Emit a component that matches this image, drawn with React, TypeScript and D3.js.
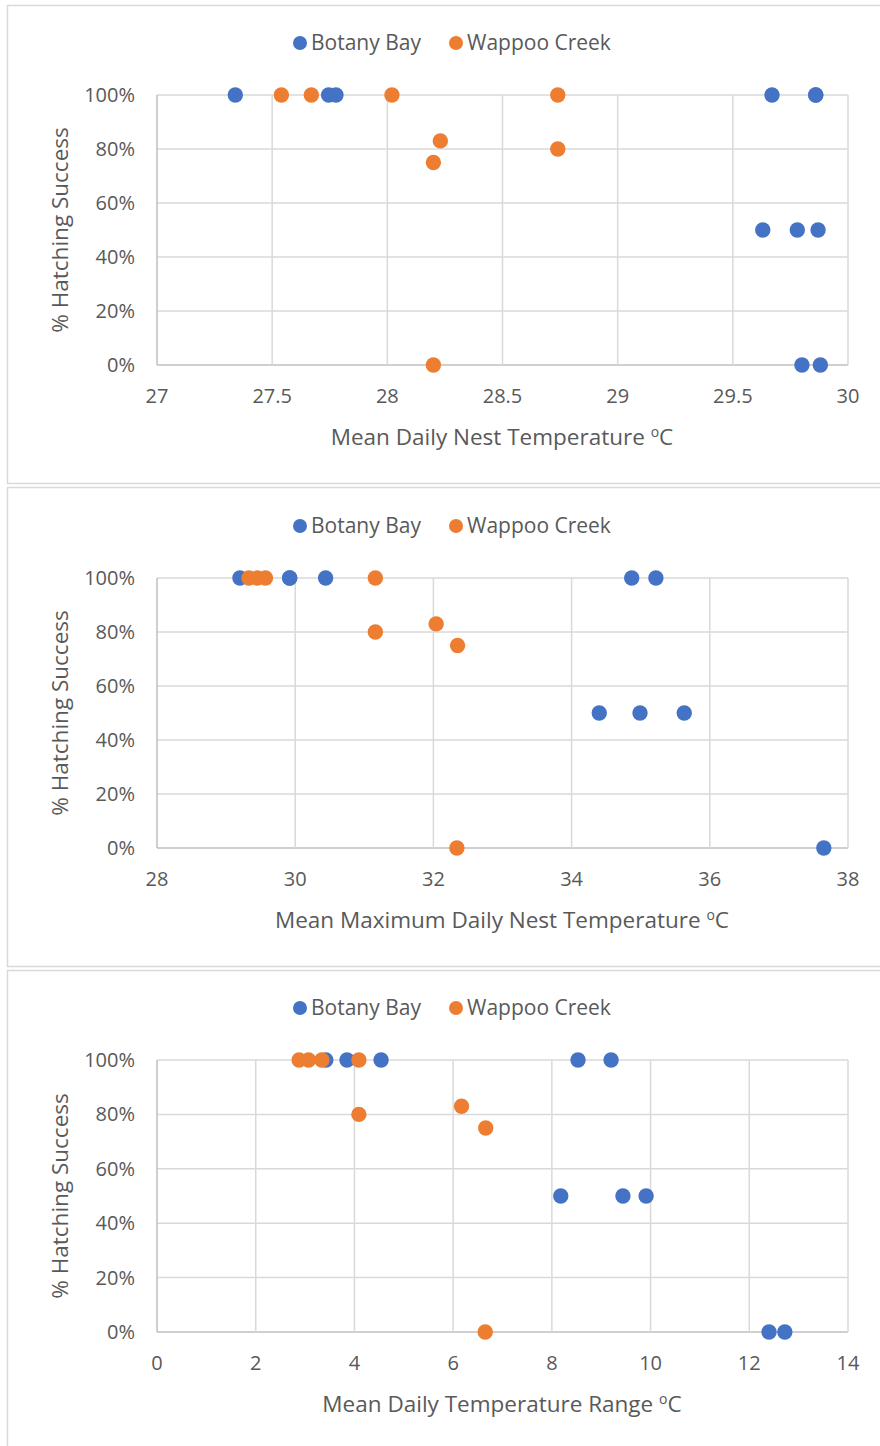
import React from "react";
import * as d3 from "d3";

const seriesNames = ["Botany Bay", "Wappoo Creek"];
const seriesColors = ["#4472C4", "#ED7D31"];

// Panel 1: Mean Daily Nest Temperature
const p1BotanyX = [27.34, 27.745, 27.777, 29.67, 29.86, 29.86, 29.63, 29.78, 29.87, 29.80, 29.88];
const p1BotanyY = [1, 1, 1, 1, 1, 1, 0.5, 0.5, 0.5, 0, 0];
const p1WappooX = [27.54, 27.67, 28.02, 28.74, 28.23, 28.20, 28.74, 28.20];
const p1WappooY = [1, 1, 1, 1, 0.83, 0.75, 0.8, 0];

// Panel 2: Mean Maximum Daily Nest Temperature
const p2BotanyX = [29.2, 29.92, 29.92, 30.44, 34.87, 35.22, 34.4, 34.99, 35.63, 37.65];
const p2BotanyY = [1, 1, 1, 1, 1, 1, 0.5, 0.5, 0.5, 0];
const p2WappooX = [29.33, 29.45, 29.57, 31.16, 31.16, 32.04, 32.35, 32.34];
const p2WappooY = [1, 1, 1, 1, 0.8, 0.83, 0.75, 0];

// Panel 3: Mean Daily Temperature Range
const p3BotanyX = [3.42, 3.85, 4.54, 8.53, 9.2, 8.18, 9.44, 9.91, 12.4, 12.72];
const p3BotanyY = [1, 1, 1, 1, 1, 0.5, 0.5, 0.5, 0, 0];
const p3WappooX = [2.88, 3.07, 3.34, 4.09, 4.09, 6.17, 6.66, 6.65];
const p3WappooY = [1, 1, 1, 1, 0.8, 0.83, 0.75, 0];

const yTicks = [0, 0.2, 0.4, 0.6, 0.8, 1];
const p1XTicks = [27, 27.5, 28, 28.5, 29, 29.5, 30];
const p2XTicks = [28, 30, 32, 34, 36, 38];
const p3XTicks = [0, 2, 4, 6, 8, 10, 12, 14];

const xTitles = [
  "Mean Daily Nest Temperature ",
  "Mean Maximum Daily Nest Temperature ",
  "Mean Daily Temperature Range ",
];
const yTitle = "% Hatching Success";

const FONT = "'Open Sans', sans-serif";
const TEXT = "#595959";
const GRID = "#d9d9d9";

type PanelProps = {
  top: number;
  bottom: number;
  plotTop: number;
  plotBottom: number;
  xDomain: [number, number];
  xTicks: number[];
  bx: number[];
  by: number[];
  wx: number[];
  wy: number[];
  title: string;
};

function Panel(p: PanelProps) {
  const x = d3.scaleLinear().domain(p.xDomain).range([157, 848]);
  const y = d3.scaleLinear().domain([0, 1]).range([p.plotBottom, p.plotTop]);
  const legendY = p.plotTop - 52;
  const fmtX = (v: number) => String(v);
  const fmtY = d3.format(".0%");
  const series = [
    { xs: p.bx, ys: p.by, color: seriesColors[0] },
    { xs: p.wx, ys: p.wy, color: seriesColors[1] },
  ];
  return (
    <g>
      <rect x={7.5} y={p.top + 0.5} width={900} height={p.bottom - p.top} fill="#fff" stroke={GRID} strokeWidth={1.5} />
      {/* legend */}
      <circle cx={300} cy={legendY} r={7} fill={seriesColors[0]} />
      <text x={311} y={legendY} dy="0.35em" fontFamily={FONT} fontSize={21} fill={TEXT}>{seriesNames[0]}</text>
      <circle cx={456} cy={legendY} r={7} fill={seriesColors[1]} />
      <text x={467} y={legendY} dy="0.35em" fontFamily={FONT} fontSize={21} fill={TEXT}>{seriesNames[1]}</text>
      {/* grid */}
      {yTicks.map((t) => (
        <line key={"gy" + t} x1={x.range()[0]} x2={x.range()[1]} y1={y(t)} y2={y(t)} stroke={t === 0 ? "#bfbfbf" : GRID} strokeWidth={1.5} />
      ))}
      {p.xTicks.map((t, i) => (
        <line key={"gx" + t} x1={x(t)} x2={x(t)} y1={y(0)} y2={y(1)} stroke={i === 0 ? "#bfbfbf" : GRID} strokeWidth={1.5} />
      ))}
      {/* tick labels */}
      {yTicks.map((t) => (
        <text key={"ty" + t} x={135} y={y(t)} dy="0.35em" textAnchor="end" fontFamily={FONT} fontSize={20} fill={TEXT}>{fmtY(t)}</text>
      ))}
      {p.xTicks.map((t) => (
        <text key={"tx" + t} x={x(t)} y={y(0) + 31} dy="0.35em" textAnchor="middle" fontFamily={FONT} fontSize={20} fill={TEXT}>{fmtX(t)}</text>
      ))}
      {/* titles */}
      <text x={502} y={y(0) + 72} dy="0.35em" textAnchor="middle" fontFamily={FONT} fontSize={22.5} fill={TEXT}>
        {p.title}
        <tspan fontSize={14} dy={-8}>o</tspan>
        <tspan dy={8}>C</tspan>
      </text>
      <text transform={`translate(60,${(y(0) + y(1)) / 2}) rotate(-90)`} dy="0.35em" textAnchor="middle" fontFamily={FONT} fontSize={22.5} fill={TEXT}>{yTitle}</text>
      {/* points */}
      {series.map((s, si) =>
        s.xs.map((v, i) => <circle key={si + "-" + i} cx={x(v)} cy={y(s.ys[i])} r={7.7} fill={s.color} />)
      )}
    </g>
  );
}

export default function App() {
  return (
    <svg width={880} height={1446} style={{ position: "absolute", left: 0, top: 0, display: "block" }}>
      <rect x={0} y={0} width={880} height={1446} fill="#fff" />
      <Panel top={5} bottom={483} plotTop={95} plotBottom={365} xDomain={[27, 30]} xTicks={p1XTicks} bx={p1BotanyX} by={p1BotanyY} wx={p1WappooX} wy={p1WappooY} title={xTitles[0]} />
      <Panel top={487} bottom={966} plotTop={578} plotBottom={848} xDomain={[28, 38]} xTicks={p2XTicks} bx={p2BotanyX} by={p2BotanyY} wx={p2WappooX} wy={p2WappooY} title={xTitles[1]} />
      <Panel top={970} bottom={1470} plotTop={1060} plotBottom={1332} xDomain={[0, 14]} xTicks={p3XTicks} bx={p3BotanyX} by={p3BotanyY} wx={p3WappooX} wy={p3WappooY} title={xTitles[2]} />
    </svg>
  );
}
